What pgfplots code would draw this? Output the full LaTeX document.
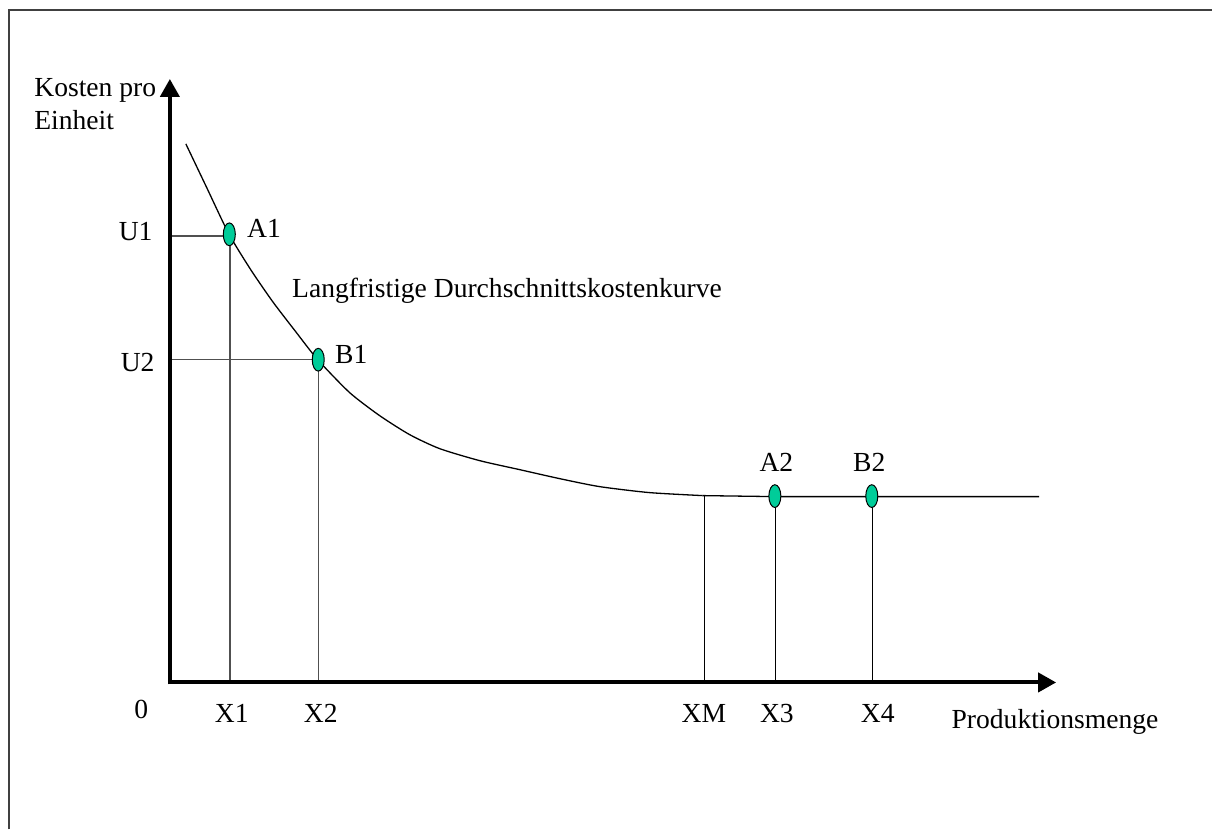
\documentclass[border=0pt]{standalone}
\usepackage{pgfplots}
\pgfplotsset{compat=1.18}
\usepackage{fontspec}
\setmainfont{Liberation Serif}
\usetikzlibrary{arrows.meta}
\definecolor{mk}{HTML}{00CC99}
\definecolor{dl}{HTML}{505050}
\definecolor{fr}{HTML}{404040}
\begin{document}
\begin{tikzpicture}
\begin{axis}[
  width=606.5pt, height=415pt, scale only axis,
  xmin=0, xmax=1213, ymin=0, ymax=830, y dir=reverse,
  axis lines=none, clip=false,
]
% bounding box
\addplot[draw=none] coordinates {(0,0) (1213,830)};
% frame
\addplot[fr, line width=1pt] coordinates {(9,830) (9,10) (1213,10)};
% drop lines
\addplot[dl, line width=0.7pt] coordinates {(170,236) (229,236)};
\addplot[dl, line width=0.7pt] coordinates {(170,360) (318,360)};
\addplot[dl, line width=0.7pt] coordinates {(230,240) (230,683)};
\addplot[dl, line width=0.7pt] coordinates {(319,365) (319,683)};
\addplot[black, line width=0.6pt] coordinates {(705,496) (705,683)};
\addplot[black, line width=0.6pt] coordinates {(776,500) (776,683)};
\addplot[black, line width=0.6pt] coordinates {(873,500) (873,683)};
% long-run average cost curve
\addplot[black, line width=0.65pt, smooth, tension=0.4] coordinates {
 (186,144) (207,188) (229,234) (251,270) (273,302) (296,332)
 (318,360) (350,393) (380,416) (410,435) (440,449) (480,461) (520,470)
 (560,479) (600,487) (650,493) (703,496)};
\addplot[black, line width=0.65pt] coordinates {(703,496) (775,497) (872,497) (1040,497)};
% axes
\addplot[black, line width=2pt, -{Triangle[length=9pt,width=9.5pt]}] coordinates {(170,685) (170,79)};
\addplot[black, line width=2pt, -{Triangle[length=9pt,width=9.5pt]}] coordinates {(168,683) (1057,683)};
% points
\addplot[only marks, mark=*, mark size=3pt, mark options={fill=mk, draw=black, line width=0.5pt, yscale=1.9}]
 coordinates {(229.5,234.5) (318.5,360) (775.5,496.5) (872.5,496.5)};
% texts
\begin{scope}[every node/.style={font=\fontsize{13.8}{16}\selectfont, inner sep=0pt}]
\node[anchor=base west] at (axis cs:34,97) {Kosten pro};
\node[anchor=base west] at (axis cs:34,130) {Einheit};
\node[anchor=base east] at (axis cs:153,241) {U1};
\node[anchor=base east] at (axis cs:155,372) {U2};
\node[anchor=base west] at (axis cs:247,238) {A1};
\node[anchor=base west] at (axis cs:335,364) {B1};
\node[anchor=base west] at (axis cs:292,298) {Langfristige Durchschnittskostenkurve};
\node[anchor=base] at (axis cs:777,472) {A2};
\node[anchor=base] at (axis cs:870,472) {B2};
\node[anchor=base] at (axis cs:141.5,719) {0};
\node[anchor=base] at (axis cs:232,723) {X1};
\node[anchor=base] at (axis cs:321,723) {X2};
\node[anchor=base] at (axis cs:704.5,723) {XM};
\node[anchor=base] at (axis cs:777.5,723) {X3};
\node[anchor=base] at (axis cs:878.5,723) {X4};
\node[anchor=base west] at (axis cs:952,729) {Produktionsmenge};
\end{scope}
\end{axis}
\end{tikzpicture}
\end{document}
